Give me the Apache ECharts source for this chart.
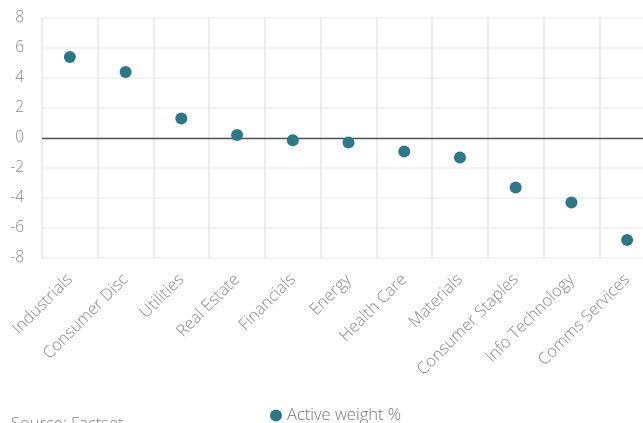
<!DOCTYPE html>
<html>
<head>
<meta charset="utf-8">
<style>html,body{margin:0;padding:0;background:#fff;overflow:hidden;width:643px;height:423px;}#c{width:660px;height:423px;}</style>
<script src="https://cdn.jsdelivr.net/npm/echarts@6/dist/echarts.min.js"></script>
</head>
<body>
<div id="c"></div>
<script>
const categories = ['Industrials','Consumer Disc','Utilities','Real Estate','Financials','Energy','Health Care','Materials','Consumer Staples','Info Technology','Comms Services'];
const activeWeight = [5.4, 4.4, 1.3, 0.2, -0.15, -0.3, -0.9, -1.3, -3.3, -4.3, -6.8];
const seriesName = 'Active weight %';
const yTicks = {min: -8, max: 8, interval: 2};
const sourceText = 'Source: Factset';

const chart = echarts.init(document.getElementById('c'), null, {renderer: 'canvas'});
const font = "'Open Sans', sans-serif";
chart.setOption({
  animation: false,
  textStyle: {fontFamily: font},
  grid: {left: 42, top: 18, width: 613, height: 240, containLabel: false},
  legend: {
    data: [seriesName], left: 265, top: 402, icon: 'circle', itemWidth: 12, itemHeight: 12, itemGap: 5,
    textStyle: {fontFamily: font, fontSize: 16.5, fontWeight: 300, color: '#777'}
  },
  graphic: [{type: 'text', left: 11, top: 416, style: {text: sourceText, font: "300 16.5px 'Open Sans', sans-serif", fill: '#888'}}],
  xAxis: {
    type: 'category', data: categories, boundaryGap: true,
    axisLine: {show: false}, axisTick: {show: false},
    splitLine: {show: true, lineStyle: {color: '#e6e6e6', width: 1.5}},
    axisLabel: {rotate: 45, margin: 19, interval: 0, fontSize: 16.5, fontWeight: 300, color: '#888', fontFamily: font}
  },
  yAxis: {
    type: 'value', min: yTicks.min, max: yTicks.max, interval: yTicks.interval,
    axisLine: {show: false}, axisTick: {show: false},
    splitLine: {lineStyle: {color: '#efefef', width: 1.5}},
    axisLabel: {fontSize: 15.5, fontWeight: 300, color: '#888', margin: 18, fontFamily: font}
  },
  series: [{
    name: seriesName, type: 'scatter', data: activeWeight, symbolSize: 12,
    itemStyle: {color: '#2e7787', opacity: 1},
    markLine: {silent: true, symbol: 'none', label: {show: false},
      lineStyle: {color: '#555', width: 1.4, type: 'solid'}, data: [{yAxis: 0}]},
    z: 5
  }]
});
</script>
</body>
</html>
